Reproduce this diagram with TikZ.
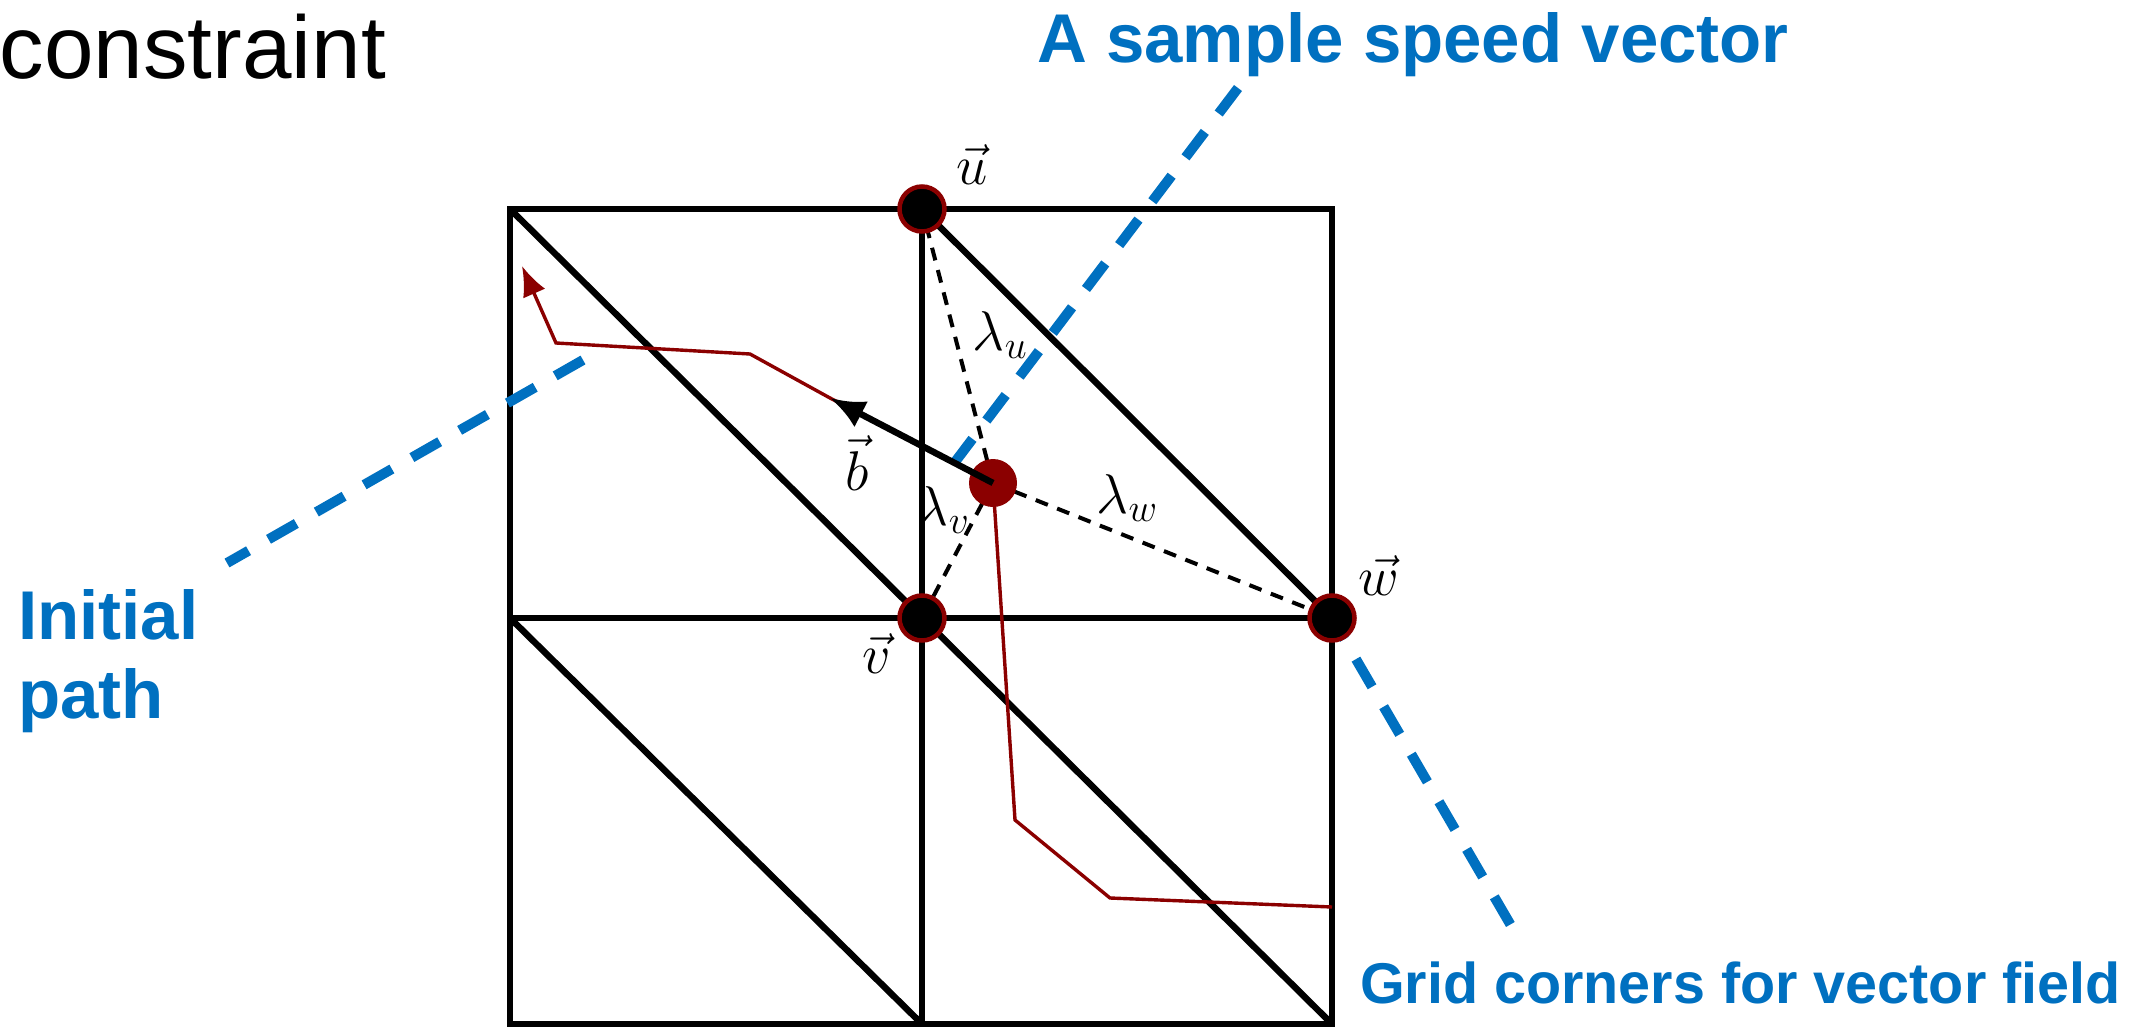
\RequirePackage{fix-cm}
\documentclass[tikz,border=0pt]{standalone}
\usepackage{fontspec}
\newfontfamily\arialfont{Liberation Sans}
\usetikzlibrary{arrows.meta}
\definecolor{dred}{RGB}{139,0,0}
\definecolor{pblue}{RGB}{0,112,192}
\pgfdeclarelayer{back}
\pgfsetlayers{back,main}
\begin{document}
\begin{tikzpicture}[x=1pt,y=-1pt,
  gridline/.style={line width=6.5pt, black},
  corner/.style={circle, fill=black, draw=dred, line width=4.5pt, minimum size=45pt, inner sep=0pt},
  sample/.style={circle, fill=dred, minimum size=48pt, inner sep=0pt},
  weight/.style={line width=4pt, dash pattern=on 13pt off 10pt},
  route/.style={dred, line width=3.4pt},
  pointer/.style={pblue, line width=10pt, dash pattern=on 32pt off 23pt},
  mathlbl/.style={inner sep=0pt, anchor=base, font=\fontsize{56}{66}\selectfont},
  bluetext/.style={pblue, inner sep=0pt, font=\arialfont\bfseries\fontsize{69}{79}\selectfont},
]
\useasboundingbox (0,0) rectangle (2136,1027);
% grid points
\coordinate (TL) at (510,209);
\coordinate (TR) at (1332,209);
\coordinate (ML) at (510,618);
\coordinate (BL) at (510,1024);
\coordinate (BM) at (922,1024);
\coordinate (BR) at (1332,1024);
% sample point and corners
\node[sample] (dot) at (993,483) {};
\coordinate (btip) at (830,398);
\draw[line width=6.5pt, -{Latex[length=35pt,width=29pt]}] (dot.center) -- (btip);
\node[corner] (u) at (922,209) {};
\node[corner] (v) at (922,618) {};
\node[corner] (w) at (1332,618) {};
% route coordinates
\coordinate (R1) at (1332,907);
\coordinate (R2) at (1110,898);
\coordinate (R3) at (1015,820);
\coordinate (R6) at (750,354);
\coordinate (R7) at (556,343);
\coordinate (R8) at (522,266);
% pointer ends
\coordinate (svA) at (1238,88);
\coordinate (svB) at (955,462);
\coordinate (ipA) at (583,360);
\coordinate (ipB) at (227,563);
\coordinate (gcB) at (1513,929);
\begin{pgfonlayer}{back}
  \draw[gridline] (TL) rectangle (BR);
  \draw[gridline] (u.center) -- (BM);
  \draw[gridline] (ML) -- (w.center);
  \draw[gridline] (TL) -- (BR);
  \draw[gridline] (u.center) -- (w.center);
  \draw[gridline] (ML) -- (BM);
  \draw[pointer] (svA) -- (svB);
  \draw[pointer] (ipA) -- (ipB);
  \draw[pointer, dash phase=7.4pt] (w.center) -- (gcB);
  \draw[weight] (dot.center) -- (u.center);
  \draw[weight] (dot.center) -- (v.center);
  \draw[weight] (dot.center) -- (w.center);
  \draw[route, -{Latex[length=30pt,width=24pt]}] (R1) -- (R2) -- (R3) -- (dot.center) -- (btip) -- (R6) -- (R7) -- (R8);
\end{pgfonlayer}
% math labels
\node[mathlbl] (lu) at (972,185) {$\vec u$};
\node[mathlbl] (lv) at (877,673) {$\vec v$};
\node[mathlbl] (lw) at (1379,595) {$\vec w$};
\node[mathlbl] (lb) at (857,490) {$\vec b$};
\node[mathlbl] (llu) at (1000,350) {$\lambda_u$};
\node[mathlbl] (llv) at (943,525) {$\lambda_v$};
\node[mathlbl] (llw) at (1127,513) {$\lambda_w$};
% texts
\node[inner sep=0pt, anchor=base east, font=\arialfont\fontsize{89}{100}\selectfont] (ttl) at (386,79) {constraint};
\node[bluetext, anchor=base west] (tsv) at (1037,63) {A sample speed vector};
\node[bluetext, anchor=base west, align=left] (tip) at (18,718) {Initial\\path};
\node[bluetext, anchor=base west, font=\arialfont\bfseries\fontsize{57.5}{64}\selectfont] (tgc) at (1360,1003) {Grid corners for vector field};
\end{tikzpicture}
\end{document}
